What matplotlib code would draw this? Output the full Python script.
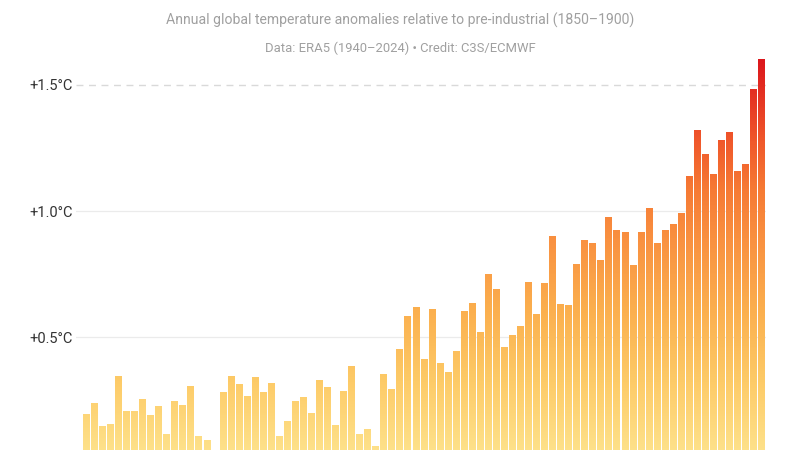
import numpy as np
import matplotlib
matplotlib.use("Agg")
import matplotlib.pyplot as plt
from matplotlib.colors import LinearSegmentedColormap, Normalize

plt.rcParams['font.family'] = ['Roboto', 'DejaVu Sans']

years = list(range(1940, 2025))
anomalies = [
    0.197, 0.241, 0.148, 0.155, 0.345, 0.209, 0.209, 0.254, 0.193, 0.226,
    0.115, 0.249, 0.233, 0.308, 0.110, 0.095, 0.030, 0.282, 0.347, 0.314,
    0.268, 0.344, 0.282, 0.319, 0.108, 0.169, 0.247, 0.265, 0.200, 0.332,
    0.304, 0.153, 0.286, 0.388, 0.115, 0.138, 0.069, 0.356, 0.295, 0.452,
    0.583, 0.618, 0.415, 0.612, 0.400, 0.361, 0.447, 0.603, 0.636, 0.519,
    0.750, 0.693, 0.462, 0.508, 0.546, 0.719, 0.592, 0.715, 0.903, 0.632,
    0.627, 0.791, 0.885, 0.872, 0.808, 0.975, 0.925, 0.918, 0.786, 0.917,
    1.012, 0.872, 0.923, 0.950, 0.991, 1.139, 1.321, 1.225, 1.147, 1.283,
    1.312, 1.157, 1.185, 1.485, 1.601,
]
tick_values = [0.5, 1.0, 1.5]
tick_labels = ["+0.5°C", "+1.0°C", "+1.5°C"]
title = "Annual global temperature anomalies relative to pre-industrial (1850–1900)"
subtitle = "Data: ERA5 (1940–2024) • Credit: C3S/ECMWF"

ramp_colors = [(0.00, "#FEE590"), (0.20, "#FDCB68"), (0.38, "#FBAF4E"),
               (0.56, "#F99040"), (0.68, "#F67A34"), (0.80, "#F0582B"),
               (1.00, "#DC171C")]
cmap = LinearSegmentedColormap.from_list("heat", ramp_colors)
norm = Normalize(vmin=0.0, vmax=1.6)

fig = plt.figure(figsize=(8, 4.5), dpi=100)
ylo, yhi = 0.0535, 1.618
ax = fig.add_axes([0.095, 0.0, 0.8625, 395 / 450])

x = np.arange(len(years))
bars = ax.bar(x, anomalies, width=0.75, color="none", edgecolor="none", zorder=2)

grad = np.linspace(0, 1.7, 400).reshape(-1, 1)
for b, v in zip(bars, anomalies):
    if v <= ylo:
        continue
    x0 = b.get_x()
    w = b.get_width()
    im = ax.imshow(grad, cmap=cmap, norm=norm, origin="lower", aspect="auto",
                   extent=[x0, x0 + w, 0, 1.7], zorder=2, interpolation="bilinear")
    im.set_clip_path(b)

for tv in tick_values[:2]:
    ax.axhline(tv, color="#EBEBEB", lw=0.9, zorder=1)
ax.axhline(1.5, color="#D9D9D9", lw=1.0, ls=(0, (5, 4)), zorder=1)

ax.set_xlim(-1.24, 84.6)
ax.set_ylim(ylo, yhi)
ax.set_yticks(tick_values)
ax.set_yticklabels(tick_labels, fontsize=10.5, color="#333333")
ax.tick_params(axis="y", length=0, pad=2)
ax.set_xticks([])
for s in ax.spines.values():
    s.set_visible(False)

fig.text(0.5, 1 - 20 / 450, title, ha="center", va="center", fontsize=10.1, color="#A0A0A0")
fig.text(0.5, 1 - 48 / 450, subtitle, ha="center", va="center", fontsize=9.4, color="#A0A0A0")

fig.savefig("out.png", dpi=100, facecolor="white")
